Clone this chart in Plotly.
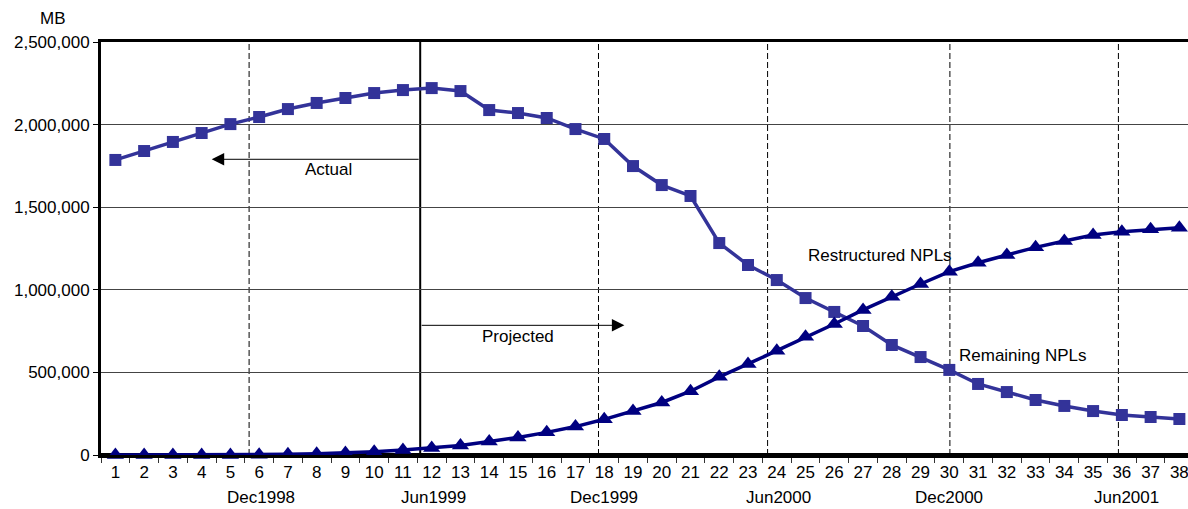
import plotly.graph_objects as go

# Month index along the x axis
months = list(range(1, 39))

# Remaining NPLs (MB)
remaining = [1786000, 1840000, 1895000, 1949000, 2003000, 2046000, 2094000, 2131000,
             2161000, 2191000, 2209000, 2221000, 2203000, 2088000, 2070000, 2040000,
             1973000, 1913000, 1749000, 1634000, 1568000, 1283000, 1150000, 1059000,
             950000, 866000, 781000, 666000, 593000, 515000, 430000, 381000,
             333000, 297000, 266000, 242000, 230000, 218000]

# Restructured NPLs (MB)
restructured = [0, 0, 0, 0, 0, 2000, 4000, 7000,
                12000, 20000, 30000, 42000, 58000, 82000, 106000, 137000,
                172000, 216000, 267000, 318000, 386000, 473000, 551000, 631000,
                716000, 793000, 878000, 958000, 1035000, 1110000, 1164000, 1211000,
                1257000, 1295000, 1332000, 1352000, 1366000, 1376000]

# Half-year markers: position on the month axis and label
period_pos = [5.65, 11.6, 17.8, 23.68, 30.02, 35.88]
period_label_pos = [6.05, 12.05, 18.0, 24.05, 30.0, 36.15]
period_labels = ["Dec1998", "Jun1999", "Dec1999", "Jun2000", "Dec2000", "Jun2001"]
split_month = 11.6  # boundary between actual and projected data

y_ticks = [0, 500000, 1000000, 1500000, 2000000, 2500000]

FONT = "Liberation Sans, Arial, sans-serif"
FS = 17

fig = go.Figure()

fig.add_trace(go.Scatter(
    x=months, y=remaining, mode="lines+markers", name="Remaining NPLs",
    line=dict(color="#333399", width=3.5),
    marker=dict(symbol="square", size=12, color="#333399"),
    cliponaxis=False, showlegend=False,
))
fig.add_trace(go.Scatter(
    x=months, y=restructured, mode="lines+markers", name="Restructured NPLs",
    line=dict(color="#000080", width=3.5),
    marker=dict(symbol="triangle-up", size=15, color="#000080"),
    cliponaxis=False, showlegend=False,
))

shapes = []
for p in period_pos:
    if p == split_month:
        shapes.append(dict(type="line", xref="x", yref="y", x0=p, x1=p, y0=0, y1=2500000,
                           line=dict(color="black", width=2), layer="below"))
    else:
        shapes.append(dict(type="line", xref="x", yref="y", x0=p, x1=p, y0=0, y1=2500000,
                           line=dict(color="black", width=1, dash="6px,3px"), layer="below"))

# heavier frame line along the bottom of the plot
shapes.append(dict(type="line", xref="paper", yref="y", x0=0, x1=1, y0=0, y1=0,
                   line=dict(color="black", width=4), layer="below"))

annotations = []
for pos, lab in zip(period_label_pos, period_labels):
    annotations.append(dict(x=pos, y=0, xref="x", yref="paper", text=lab, showarrow=False,
                            yanchor="top", yshift=-31, font=dict(family=FONT, size=FS, color="black")))

# Actual / Projected arrows starting at the split line
annotations.append(dict(x=4.35, y=1790000, ax=split_month, ay=1790000, xref="x", yref="y",
                        axref="x", ayref="y", text="", showarrow=True, arrowhead=2,
                        arrowsize=2.5, arrowwidth=1, arrowcolor="black"))
annotations.append(dict(x=8.42, y=1730000, xref="x", yref="y", text="Actual", showarrow=False,
                        font=dict(family=FONT, size=FS, color="black")))
annotations.append(dict(x=18.7, y=785000, ax=split_month, ay=785000, xref="x", yref="y",
                        axref="x", ayref="y", text="", showarrow=True, arrowhead=2,
                        arrowsize=2.5, arrowwidth=1, arrowcolor="black"))
annotations.append(dict(x=15.0, y=715000, xref="x", yref="y", text="Projected", showarrow=False,
                        font=dict(family=FONT, size=FS, color="black")))

annotations.append(dict(x=27.58, y=1208000, xref="x", yref="y", text="Restructured NPLs",
                        showarrow=False, font=dict(family=FONT, size=FS, color="black")))
annotations.append(dict(x=32.55, y=603000, xref="x", yref="y", text="Remaining NPLs",
                        showarrow=False, font=dict(family=FONT, size=FS, color="black")))

annotations.append(dict(x=0, y=1, xref="paper", yref="paper", text="MB", showarrow=False,
                        xshift=-48, yshift=24, xanchor="center", yanchor="middle",
                        font=dict(family=FONT, size=FS, color="black")))

fig.update_layout(
    width=1188, height=509,
    margin=dict(l=101, r=0, t=42, b=54),
    plot_bgcolor="white", paper_bgcolor="white",
    font=dict(family=FONT, size=FS, color="black"),
    shapes=shapes, annotations=annotations,
    xaxis=dict(
        range=[0.5, 38.3], tickmode="array", tickvals=months,
        ticktext=[str(m) for m in months], ticks="", showgrid=False, zeroline=False,
        showline=True, linecolor="black", linewidth=3, mirror=True,
        ticklabeloverflow="allow",
        minor=dict(tickmode="linear", tick0=0.5, dtick=1, ticks="outside",
                   ticklen=5, tickwidth=1, tickcolor="#333", showgrid=False),
        tickfont=dict(family=FONT, size=FS, color="black"),
    ),
    yaxis=dict(
        range=[0, 2500000], tickmode="array", tickvals=y_ticks,
        ticktext=[f"{v:,}" for v in y_ticks], ticks="outside", ticklen=5,
        tickcolor="black", showgrid=True, gridcolor="#444", gridwidth=1,
        zeroline=False, showline=True, linecolor="black", linewidth=3,
        tickfont=dict(family=FONT, size=FS, color="black"),
    ),
)

fig.write_html("out.html")
